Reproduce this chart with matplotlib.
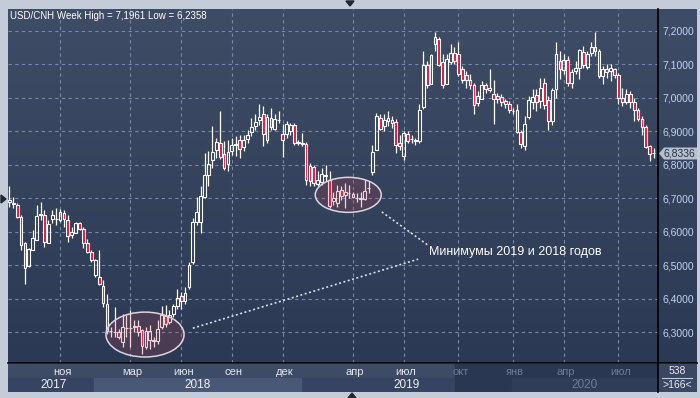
import numpy as np
import matplotlib
matplotlib.use("Agg")
import matplotlib.pyplot as plt
from matplotlib.patches import Ellipse, Polygon, Rectangle

# weekly USD/CNH candles
opens = [6.690, 6.683, 6.680, 6.645, 6.565, 6.497, 6.545, 6.575, 6.650, 6.650,
         6.565, 6.637, 6.638, 6.635, 6.657, 6.635, 6.590, 6.597, 6.625, 6.607,
         6.565, 6.540, 6.470, 6.465, 6.437, 6.385, 6.303, 6.300, 6.300, 6.270,
         6.312, 6.312, 6.317, 6.318, 6.307, 6.255, 6.277, 6.275, 6.275, 6.315,
         6.347, 6.330, 6.353, 6.378, 6.408, 6.393, 6.436, 6.510, 6.628, 6.628,
         6.703, 6.768, 6.813, 6.843, 6.866, 6.833, 6.803, 6.841, 6.858, 6.875,
         6.853, 6.876, 6.898, 6.916, 6.933, 6.950, 6.873, 6.938, 6.908, 6.933,
         6.893, 6.893, 6.900, 6.918, 6.867, 6.864, 6.863, 6.796, 6.793, 6.743,
         6.748, 6.768, 6.755, 6.692, 6.687, 6.724, 6.709, 6.717, 6.712, 6.702,
         6.698, 6.699, 6.729, 6.779, 6.845, 6.939, 6.915, 6.930, 6.934, 6.927,
         6.865, 6.827, 6.892, 6.877, 6.873, 6.872, 6.972, 7.097, 7.042, 7.182,
         7.175, 7.107, 7.042, 7.107, 7.132, 7.129, 7.085, 7.069, 7.052, 7.037,
         6.985, 6.997, 7.039, 7.022, 7.012, 7.004, 7.002, 6.989, 6.982, 6.961,
         6.962, 6.899, 6.857, 6.942, 6.987, 7.007, 6.989, 7.045, 6.992, 6.930,
         7.027, 7.109, 7.082, 7.112, 7.045, 7.080, 7.089, 7.135, 7.092, 7.132,
         7.152, 7.139, 7.065, 7.085, 7.079, 7.085, 7.067, 7.000, 6.987, 7.012,
         6.987, 6.964, 6.937, 6.914, 6.855, 6.834]
highs = [6.737, 6.705, 6.685, 6.650, 6.570, 6.550, 6.605, 6.680, 6.690, 6.665,
         6.635, 6.665, 6.670, 6.667, 6.665, 6.650, 6.615, 6.630, 6.630, 6.615,
         6.577, 6.545, 6.520, 6.545, 6.455, 6.415, 6.315, 6.375, 6.310, 6.355,
         6.350, 6.365, 6.335, 6.335, 6.310, 6.315, 6.323, 6.285, 6.335, 6.377,
         6.380, 6.365, 6.385, 6.430, 6.420, 6.435, 6.510, 6.640, 6.705, 6.735,
         6.835, 6.840, 6.915, 6.880, 6.960, 6.870, 6.875, 6.880, 6.885, 6.890,
         6.890, 6.905, 6.940, 6.950, 6.980, 6.975, 6.950, 6.970, 6.950, 6.960,
         6.923, 6.930, 6.925, 6.925, 6.875, 6.896, 6.868, 6.805, 6.800, 6.780,
         6.790, 6.800, 6.780, 6.720, 6.740, 6.735, 6.745, 6.740, 6.720, 6.715,
         6.720, 6.755, 6.750, 6.860, 6.955, 6.950, 6.950, 6.960, 6.945, 6.935,
         6.890, 6.900, 6.900, 6.890, 6.880, 6.980, 7.140, 7.110, 7.130, 7.197,
         7.180, 7.130, 7.130, 7.160, 7.150, 7.165, 7.095, 7.080, 7.070, 7.045,
         7.020, 7.050, 7.045, 7.087, 7.052, 7.015, 7.010, 6.995, 6.990, 6.970,
         6.980, 6.905, 6.945, 7.005, 7.025, 7.025, 7.060, 7.060, 7.005, 7.030,
         7.167, 7.140, 7.130, 7.125, 7.085, 7.110, 7.145, 7.155, 7.140, 7.165,
         7.196, 7.145, 7.095, 7.100, 7.100, 7.090, 7.075, 7.030, 7.025, 7.020,
         7.000, 6.970, 6.945, 6.920, 6.860, 6.850]
lows = [6.675, 6.670, 6.640, 6.545, 6.443, 6.495, 6.545, 6.575, 6.635, 6.555,
        6.565, 6.625, 6.620, 6.630, 6.615, 6.570, 6.580, 6.595, 6.605, 6.550,
        6.535, 6.510, 6.465, 6.440, 6.375, 6.295, 6.285, 6.285, 6.280, 6.255,
        6.285, 6.255, 6.300, 6.290, 6.236, 6.250, 6.250, 6.255, 6.265, 6.310,
        6.315, 6.325, 6.345, 6.370, 6.368, 6.385, 6.430, 6.505, 6.620, 6.596,
        6.700, 6.735, 6.790, 6.820, 6.818, 6.785, 6.780, 6.830, 6.825, 6.820,
        6.840, 6.865, 6.885, 6.905, 6.920, 6.855, 6.865, 6.905, 6.905, 6.925,
        6.823, 6.880, 6.890, 6.860, 6.860, 6.856, 6.740, 6.736, 6.735, 6.735,
        6.740, 6.750, 6.670, 6.680, 6.675, 6.695, 6.670, 6.700, 6.700, 6.690,
        6.675, 6.695, 6.715, 6.770, 6.843, 6.905, 6.900, 6.915, 6.910, 6.835,
        6.845, 6.815, 6.865, 6.865, 6.858, 6.865, 6.965, 7.030, 7.040, 7.140,
        7.095, 7.030, 7.040, 7.100, 7.100, 7.065, 7.045, 7.030, 7.025, 6.950,
        6.975, 6.995, 7.015, 7.017, 6.922, 6.985, 6.975, 6.970, 6.955, 6.950,
        6.895, 6.850, 6.845, 6.935, 6.965, 6.960, 6.970, 6.965, 6.905, 6.920,
        7.000, 7.055, 7.070, 7.035, 7.030, 7.070, 7.055, 7.090, 7.085, 7.125,
        7.125, 7.060, 7.040, 7.060, 7.050, 7.060, 6.980, 6.975, 6.980, 6.970,
        6.930, 6.930, 6.890, 6.850, 6.810, 6.820]
closes = [6.695, 6.687, 6.645, 6.560, 6.493, 6.547, 6.580, 6.647, 6.652, 6.570,
          6.622, 6.650, 6.639, 6.660, 6.637, 6.587, 6.600, 6.627, 6.607, 6.565,
          6.540, 6.515, 6.515, 6.445, 6.387, 6.305, 6.303, 6.301, 6.285, 6.315,
          6.313, 6.313, 6.319, 6.300, 6.258, 6.303, 6.303, 6.276, 6.310, 6.350,
          6.325, 6.350, 6.378, 6.403, 6.393, 6.418, 6.500, 6.628, 6.658, 6.708,
          6.770, 6.803, 6.838, 6.868, 6.823, 6.790, 6.838, 6.860, 6.863, 6.846,
          6.873, 6.890, 6.912, 6.928, 6.943, 6.893, 6.943, 6.913, 6.936, 6.934,
          6.873, 6.921, 6.920, 6.866, 6.866, 6.863, 6.755, 6.751, 6.746, 6.753,
          6.773, 6.767, 6.677, 6.702, 6.722, 6.707, 6.719, 6.716, 6.705, 6.702,
          6.700, 6.722, 6.731, 6.839, 6.945, 6.907, 6.934, 6.940, 6.924, 6.859,
          6.857, 6.895, 6.872, 6.876, 6.872, 6.962, 7.097, 7.037, 7.127, 7.159,
          7.097, 7.037, 7.117, 7.132, 7.109, 7.072, 7.052, 7.052, 7.037, 6.979,
          7.005, 7.039, 7.025, 7.029, 6.997, 6.997, 6.987, 6.981, 6.962, 6.960,
          6.899, 6.862, 6.922, 6.992, 7.002, 6.987, 7.030, 6.977, 6.930, 7.022,
          7.129, 7.087, 7.112, 7.045, 7.077, 7.090, 7.142, 7.099, 7.129, 7.152,
          7.139, 7.065, 7.085, 7.077, 7.089, 7.067, 7.000, 6.987, 7.012, 6.987,
          6.962, 6.937, 6.912, 6.852, 6.832, 6.8336]

price_ticks = [6.3, 6.4, 6.5, 6.6, 6.7, 6.8, 6.9, 7.0, 7.1, 7.2]
month_names = ["ноя", "мар", "июн", "сен", "дек", "апр", "июл", "окт", "янв", "апр", "июл"]
month_pos = [13, 31, 44, 57, 70, 88, 101, 115, 129, 142, 156]
year_names = ["2017", "2018", "2019", "2020"]
year_pos = [11.4, 48.2, 101.8, 147.4]

W, H = 700, 398
fig = plt.figure(figsize=(7, 3.98), dpi=100)
fig.patch.set_facecolor("#c3ccd8")
plt.rcParams["font.family"] = ["Liberation Sans", "DejaVu Sans"]


def px_axes(x0, y0, x1, y1):
    return fig.add_axes([x0 / W, 1 - y1 / H, (x1 - x0) / W, (y1 - y0) / H])


def fx(x):
    return x / W


def fy(y):
    return 1 - y / H


# dark gradient panel
bg = px_axes(8, 9, 697, 363)
top = np.array([63, 76, 102]) / 255
bot = np.array([44, 57, 84]) / 255
t = np.linspace(0, 1, 256)[:, None, None]
grad = top * (1 - t) + bot * t
bg.imshow(grad, aspect="auto", extent=[0, 1, 0, 1])
bg.axis("off")

ax = px_axes(8, 9, 658, 363)
ax.set_facecolor("none")
n = len(closes)
x = np.arange(n)
o = np.array(opens); h = np.array(highs); l = np.array(lows); c = np.array(closes)
body_top = np.maximum(o, c)
body_bot = np.minimum(o, c)
up = c >= o

ax.set_xlim(-0.333, 166.12)
ax.set_ylim(6.2081, 7.2648)

# grid
for p in price_ticks:
    ax.axhline(p, color="#7888a8", lw=0.8, ls=(0, (3, 3)), zorder=1)
for m in month_pos:
    ax.axvline(m, color="#7888a8", lw=0.8, ls=(0, (3, 3)), zorder=1)

# candles
ax.vlines(x, body_top, h, color="white", lw=0.9, zorder=3)
ax.vlines(x, l, body_bot, color="white", lw=0.9, zorder=3)
ax.bar(x[up], (body_top - body_bot)[up], bottom=body_bot[up], width=0.72,
       facecolor="none", edgecolor="white", linewidth=0.8, zorder=4)
ax.bar(x[~up], (body_top - body_bot)[~up], bottom=body_bot[~up], width=0.72,
       facecolor="#e3143c", edgecolor="white", linewidth=0.8, zorder=4)

# annotations
for cx, cy, ew, eh in [(34.75, 6.293, 20.0, 0.134), (86.8, 6.710, 16.9, 0.1045)]:
    ax.add_patch(Ellipse((cx, cy), ew, eh, facecolor=(0.72, 0.25, 0.30, 0.22),
                         edgecolor="none", zorder=5))
    ax.add_patch(Ellipse((cx, cy), ew, eh, facecolor="none",
                         edgecolor="#ddd6de", lw=1.1, zorder=6))
ax.plot([47.0, 104.7], [6.312, 6.518], color="#d8dfec", lw=1.2,
        ls=(0, (1.2, 1.5)), zorder=6)
ax.plot([95.4, 107.2], [6.659, 6.560], color="#d8dfec", lw=1.2,
        ls=(0, (1.2, 1.5)), zorder=6)
ax.text(107.4, 6.539, "Минимумы 2019 и 2018 годов", color="white",
        fontsize=9, va="center", ha="left", zorder=7)

# right price axis
ax.yaxis.tick_right()
ax.set_yticks(price_ticks)
ax.set_yticklabels([f"{p:.4f}".replace(".", ",") for p in price_ticks])
ax.tick_params(axis="y", length=0, pad=3, labelsize=7.5, labelcolor="#bfd2ee")
ax.set_xticks([])
for s in ["top", "left"]:
    ax.spines[s].set_visible(False)
ax.spines["right"].set_color("black")
ax.spines["bottom"].set_color("black")
ax.spines["right"].set_linewidth(1.2)
ax.spines["bottom"].set_linewidth(1.2)

# last price tag
tag = Polygon([[fx(659), fy(153.5)], [fx(664), fy(147.5)], [fx(697), fy(147.5)],
               [fx(697), fy(159.5)], [fx(664), fy(159.5)]], closed=True,
              transform=fig.transFigure, facecolor="#b6bfcc", edgecolor="none", zorder=10)
fig.add_artist(tag)
fig.text(fx(664), fy(153.5), f"{closes[-1]:.4f}".replace(".", ","), fontsize=7.5,
         color="#24304a", va="center", ha="left", zorder=11)

# bottom time axis
band = px_axes(8, 364, 658, 392)
band.set_xlim(ax.get_xlim())
band.set_ylim(0, 2)
band.axis("off")
band.add_patch(Rectangle((-1, 1), 170, 1, color="#3e4b67"))
band.add_patch(Rectangle((-1, 0), 170, 1, color="#364461"))
band.add_patch(Rectangle((21.7, 0), 53.0, 1, color="#4a5877"))
band.add_patch(Rectangle((114.1, 0), 51.9, 2, color="#2a3752"))
band.add_patch(Rectangle((128.7, 0), 37.3, 1, color="#303d59"))
for name, pos in zip(month_names, month_pos):
    col = "#6b7b98" if pos > 114 else "#e2e8f0"
    band.text(pos + 0.5, 1.45, name, color=col, fontsize=8, ha="center", va="center")
for name, pos in zip(year_names, year_pos):
    col = "#6b7b98" if pos > 114 else "#eef2f7"
    band.text(pos, 0.5, name, color=col, fontsize=8.5, ha="center", va="center")

corner = px_axes(658, 364, 697, 392)
corner.set_facecolor("#3a4763")
corner.set_xticks([]); corner.set_yticks([])
for s in corner.spines.values():
    s.set_visible(False)
corner.text(0.5, 0.74, "538", color="#e6ecf4", fontsize=7.5, ha="center", va="center",
            transform=corner.transAxes)
corner.plot([0.1, 0.88], [0.5, 0.5], color="#c0cada", lw=0.8, transform=corner.transAxes)
corner.text(0.5, 0.24, ">166<", color="#e6ecf4", fontsize=7.5, ha="center", va="center",
            transform=corner.transAxes)
fig.add_artist(plt.Line2D([fx(658), fx(658)], [fy(363), fy(392)], color="black", lw=1.2,
                          transform=fig.transFigure))
fig.add_artist(plt.Line2D([fx(658), fx(697)], [fy(363), fy(363)], color="black", lw=1.2,
                          transform=fig.transFigure))

# title
fig.text(fx(10), fy(16), "USD/CNH Week High = 7,1961 Low = 6,2358", color="white",
         fontsize=7, va="center", ha="left")

# small nav triangles in the frame
for pts in ([[346, 1], [354, 1], [350, 6]], [[348, 398], [356, 398], [352, 393]],
            [[1, 195], [1, 203], [6, 199]]):
    fig.add_artist(Polygon([[fx(a), fy(b)] for a, b in pts], closed=True,
                           transform=fig.transFigure, color="#1f2635"))

fig.savefig("out.png", dpi=100)
